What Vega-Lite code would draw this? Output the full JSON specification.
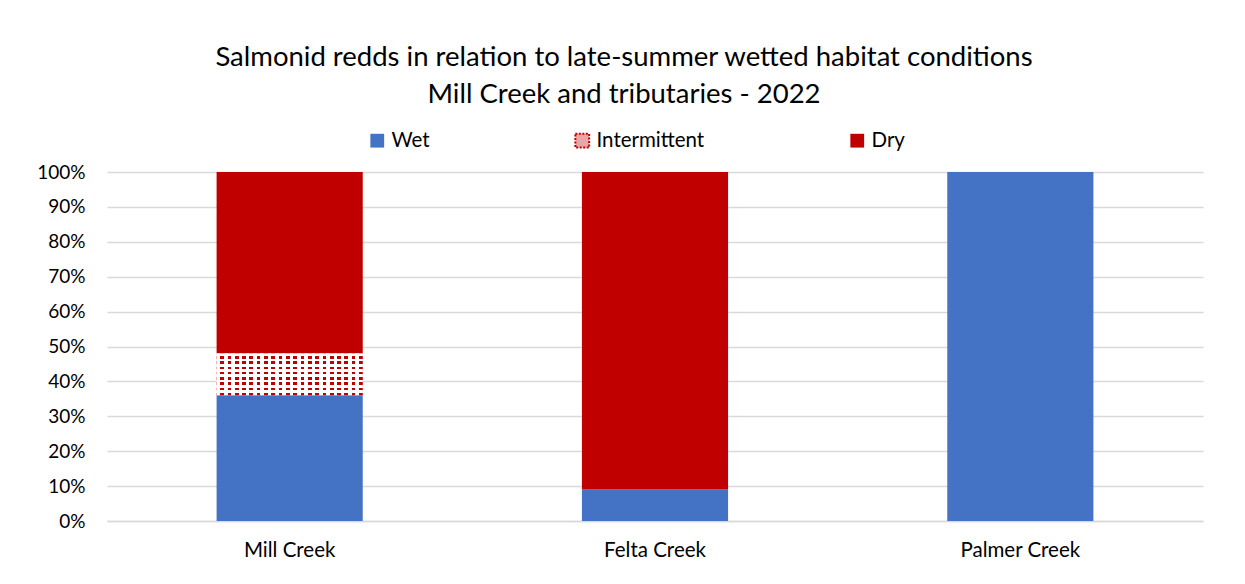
{
  "$schema": "https://vega.github.io/schema/vega-lite/v6.json",
  "autosize": "none",
  "width": 1096,
  "height": 349,
  "padding": {"left": 107, "top": 172, "right": 42, "bottom": 63},
  "background": "white",
  "config": {
    "font": "Lato",
    "view": {"stroke": null}
  },
  "title": {
    "text": ["Salmonid redds in relation to late-summer wetted habitat conditions", "Mill Creek and tributaries - 2022"],
    "fontSize": 27.5,
    "fontWeight": "normal",
    "color": "#000000",
    "font": "Lato",
    "lineHeight": 37,
    "anchor": "middle",
    "dx": -31,
    "offset": 22
  },
  "data": {
    "values": [
      {"creek": "Mill Creek", "cat": "Wet", "value": 0.36},
      {"creek": "Mill Creek", "cat": "Intermittent", "value": 0.12},
      {"creek": "Mill Creek", "cat": "Dry", "value": 0.52},
      {"creek": "Felta Creek", "cat": "Wet", "value": 0.09},
      {"creek": "Felta Creek", "cat": "Intermittent", "value": 0.0},
      {"creek": "Felta Creek", "cat": "Dry", "value": 0.91},
      {"creek": "Palmer Creek", "cat": "Wet", "value": 1.0},
      {"creek": "Palmer Creek", "cat": "Intermittent", "value": 0.0},
      {"creek": "Palmer Creek", "cat": "Dry", "value": 0.0}
    ]
  },
  "transform": [
    {"stack": "value", "groupby": ["creek"], "sort": [{"field": "cat", "order": "descending"}], "as": ["v0", "v1"]}
  ],
  "encoding": {
    "x": {
      "field": "creek", "type": "nominal", "sort": ["Mill Creek", "Felta Creek", "Palmer Creek"],
      "scale": {"paddingInner": 0.6, "paddingOuter": 0.3},
      "axis": {"title": null, "labelAngle": 0, "labelFontSize": 20.5, "labelColor": "#000000", "labelPadding": 19, "ticks": false, "domain": true, "domainColor": "#D9D9D9", "domainWidth": 1.5, "labelFont": "Lato"}
    },
    "y": {
      "field": "v0", "type": "quantitative",
      "scale": {"domain": [0, 1], "nice": false},
      "axis": {"title": null, "format": ".0%", "values": [0, 0.1, 0.2, 0.3, 0.4, 0.5, 0.6, 0.7, 0.8, 0.9, 1.0], "labelFontSize": 19, "labelColor": "#000000", "labelPadding": 22, "ticks": false, "domain": false, "gridColor": "#D9D9D9", "gridWidth": 1.5, "labelFont": "Lato"}
    },
    "y2": {"field": "v1"}
  },
  "layer": [
    {
      "mark": {"type": "bar"},
      "encoding": {
        "color": {
          "field": "cat", "type": "nominal",
          "scale": {"domain": ["Wet", "Intermittent", "Dry"], "range": ["#4472C4", "#E9A6A6", "#C00000"]},
          "legend": {
            "title": null, "orient": "none", "direction": "horizontal",
            "legendX": 260, "legendY": -42,
            "symbolType": "square", "symbolSize": 190, "labelFontSize": 20.5, "labelColor": "#000000", "labelFont": "Lato",
            "columnPadding": 141, "labelOffset": 4,
            "encode": {
              "symbols": {
                "update": {
                  "fill": [{"test": "datum.value === 'Intermittent'", "value": "#ffffff"}, {"field": "value", "scale": "color"}],
                  "stroke": [{"test": "datum.value === 'Intermittent'", "value": "#C00000"}, {"value": "transparent"}],
                  "strokeDash": [{"test": "datum.value === 'Intermittent'", "value": [2, 1.5]}, {"value": []}],
                  "strokeWidth": {"value": 2}
                }
              }
            }
          }
        }
      }
    },
    {
      "transform": [{"filter": "datum.cat === 'Intermittent' && datum.value > 0"}],
      "mark": {
        "type": "bar",
        "fill": {
          "gradient": "linear", "x1": 0, "y1": 0, "x2": 0, "y2": 1,
          "stops": [
            {"offset": 0, "color": "#ffffff"}, {"offset": 0.0625, "color": "#ffffff"}, {"offset": 0.0625, "color": "#C00000"}, {"offset": 0.125, "color": "#C00000"},
            {"offset": 0.125, "color": "#ffffff"}, {"offset": 0.1875, "color": "#ffffff"}, {"offset": 0.1875, "color": "#C00000"}, {"offset": 0.25, "color": "#C00000"},
            {"offset": 0.25, "color": "#ffffff"}, {"offset": 0.3125, "color": "#ffffff"}, {"offset": 0.3125, "color": "#C00000"}, {"offset": 0.375, "color": "#C00000"},
            {"offset": 0.375, "color": "#ffffff"}, {"offset": 0.4375, "color": "#ffffff"}, {"offset": 0.4375, "color": "#C00000"}, {"offset": 0.5, "color": "#C00000"},
            {"offset": 0.5, "color": "#ffffff"}, {"offset": 0.5625, "color": "#ffffff"}, {"offset": 0.5625, "color": "#C00000"}, {"offset": 0.625, "color": "#C00000"},
            {"offset": 0.625, "color": "#ffffff"}, {"offset": 0.6875, "color": "#ffffff"}, {"offset": 0.6875, "color": "#C00000"}, {"offset": 0.75, "color": "#C00000"},
            {"offset": 0.75, "color": "#ffffff"}, {"offset": 0.8125, "color": "#ffffff"}, {"offset": 0.8125, "color": "#C00000"}, {"offset": 0.875, "color": "#C00000"},
            {"offset": 0.875, "color": "#ffffff"}, {"offset": 0.9375, "color": "#ffffff"}, {"offset": 0.9375, "color": "#C00000"}, {"offset": 1, "color": "#C00000"}
          ]
        }
      },
      "encoding": {}
    },
    {
      "transform": [{"filter": "datum.cat === 'Intermittent' && datum.value > 0"}],
      "mark": {
        "type": "bar",
        "fill": {
          "gradient": "linear", "x1": 0, "y1": 0, "x2": 1, "y2": 0,
          "stops": [
            {"offset": 0, "color": "rgba(255,255,255,1)"}, {"offset": 0.025, "color": "rgba(255,255,255,1)"}, {"offset": 0.025, "color": "rgba(255,255,255,0)"}, {"offset": 0.05, "color": "rgba(255,255,255,0)"},
            {"offset": 0.05, "color": "rgba(255,255,255,1)"}, {"offset": 0.075, "color": "rgba(255,255,255,1)"}, {"offset": 0.075, "color": "rgba(255,255,255,0)"}, {"offset": 0.1, "color": "rgba(255,255,255,0)"},
            {"offset": 0.1, "color": "rgba(255,255,255,1)"}, {"offset": 0.125, "color": "rgba(255,255,255,1)"}, {"offset": 0.125, "color": "rgba(255,255,255,0)"}, {"offset": 0.15, "color": "rgba(255,255,255,0)"},
            {"offset": 0.15, "color": "rgba(255,255,255,1)"}, {"offset": 0.175, "color": "rgba(255,255,255,1)"}, {"offset": 0.175, "color": "rgba(255,255,255,0)"}, {"offset": 0.2, "color": "rgba(255,255,255,0)"},
            {"offset": 0.2, "color": "rgba(255,255,255,1)"}, {"offset": 0.225, "color": "rgba(255,255,255,1)"}, {"offset": 0.225, "color": "rgba(255,255,255,0)"}, {"offset": 0.25, "color": "rgba(255,255,255,0)"},
            {"offset": 0.25, "color": "rgba(255,255,255,1)"}, {"offset": 0.275, "color": "rgba(255,255,255,1)"}, {"offset": 0.275, "color": "rgba(255,255,255,0)"}, {"offset": 0.3, "color": "rgba(255,255,255,0)"},
            {"offset": 0.3, "color": "rgba(255,255,255,1)"}, {"offset": 0.325, "color": "rgba(255,255,255,1)"}, {"offset": 0.325, "color": "rgba(255,255,255,0)"}, {"offset": 0.35, "color": "rgba(255,255,255,0)"},
            {"offset": 0.35, "color": "rgba(255,255,255,1)"}, {"offset": 0.375, "color": "rgba(255,255,255,1)"}, {"offset": 0.375, "color": "rgba(255,255,255,0)"}, {"offset": 0.4, "color": "rgba(255,255,255,0)"},
            {"offset": 0.4, "color": "rgba(255,255,255,1)"}, {"offset": 0.425, "color": "rgba(255,255,255,1)"}, {"offset": 0.425, "color": "rgba(255,255,255,0)"}, {"offset": 0.45, "color": "rgba(255,255,255,0)"},
            {"offset": 0.45, "color": "rgba(255,255,255,1)"}, {"offset": 0.475, "color": "rgba(255,255,255,1)"}, {"offset": 0.475, "color": "rgba(255,255,255,0)"}, {"offset": 0.5, "color": "rgba(255,255,255,0)"},
            {"offset": 0.5, "color": "rgba(255,255,255,1)"}, {"offset": 0.525, "color": "rgba(255,255,255,1)"}, {"offset": 0.525, "color": "rgba(255,255,255,0)"}, {"offset": 0.55, "color": "rgba(255,255,255,0)"},
            {"offset": 0.55, "color": "rgba(255,255,255,1)"}, {"offset": 0.575, "color": "rgba(255,255,255,1)"}, {"offset": 0.575, "color": "rgba(255,255,255,0)"}, {"offset": 0.6, "color": "rgba(255,255,255,0)"},
            {"offset": 0.6, "color": "rgba(255,255,255,1)"}, {"offset": 0.625, "color": "rgba(255,255,255,1)"}, {"offset": 0.625, "color": "rgba(255,255,255,0)"}, {"offset": 0.65, "color": "rgba(255,255,255,0)"},
            {"offset": 0.65, "color": "rgba(255,255,255,1)"}, {"offset": 0.675, "color": "rgba(255,255,255,1)"}, {"offset": 0.675, "color": "rgba(255,255,255,0)"}, {"offset": 0.7, "color": "rgba(255,255,255,0)"},
            {"offset": 0.7, "color": "rgba(255,255,255,1)"}, {"offset": 0.725, "color": "rgba(255,255,255,1)"}, {"offset": 0.725, "color": "rgba(255,255,255,0)"}, {"offset": 0.75, "color": "rgba(255,255,255,0)"},
            {"offset": 0.75, "color": "rgba(255,255,255,1)"}, {"offset": 0.775, "color": "rgba(255,255,255,1)"}, {"offset": 0.775, "color": "rgba(255,255,255,0)"}, {"offset": 0.8, "color": "rgba(255,255,255,0)"},
            {"offset": 0.8, "color": "rgba(255,255,255,1)"}, {"offset": 0.825, "color": "rgba(255,255,255,1)"}, {"offset": 0.825, "color": "rgba(255,255,255,0)"}, {"offset": 0.85, "color": "rgba(255,255,255,0)"},
            {"offset": 0.85, "color": "rgba(255,255,255,1)"}, {"offset": 0.875, "color": "rgba(255,255,255,1)"}, {"offset": 0.875, "color": "rgba(255,255,255,0)"}, {"offset": 0.9, "color": "rgba(255,255,255,0)"},
            {"offset": 0.9, "color": "rgba(255,255,255,1)"}, {"offset": 0.925, "color": "rgba(255,255,255,1)"}, {"offset": 0.925, "color": "rgba(255,255,255,0)"}, {"offset": 0.95, "color": "rgba(255,255,255,0)"},
            {"offset": 0.95, "color": "rgba(255,255,255,1)"}, {"offset": 0.975, "color": "rgba(255,255,255,1)"}, {"offset": 0.975, "color": "rgba(255,255,255,0)"}, {"offset": 1, "color": "rgba(255,255,255,0)"}
          ]
        }
      },
      "encoding": {}
    }
  ]
}
